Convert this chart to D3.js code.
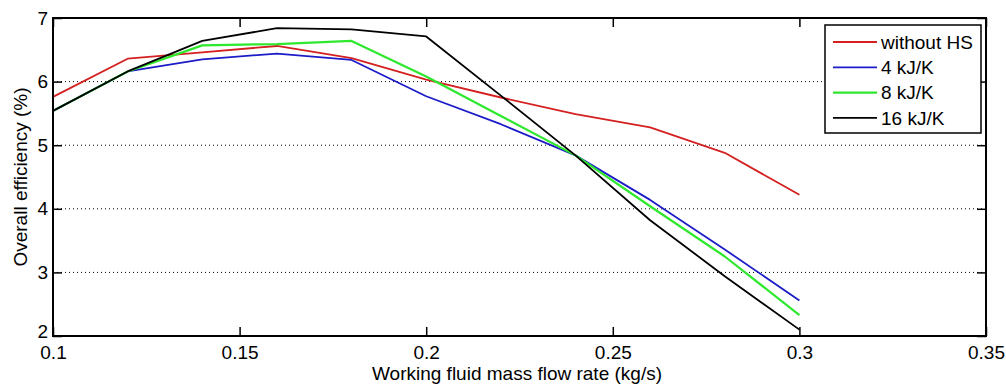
<!DOCTYPE html>
<html lang="en">
<head>
    <meta charset="UTF-8">
    <title>Overall efficiency vs working fluid mass flow rate</title>
    <script src="https://d3js.org/d3.v7.min.js"></script>
    <style>
        body { margin: 0; background: white; }
        svg { display: block; background-color: white; }
        text { font-family: "Liberation Sans", Arial, sans-serif; fill: #000; }
    </style>
</head>
<body>
    <script>
        // values
        const flowRates = [0.1, 0.12, 0.14, 0.16, 0.18, 0.2, 0.22, 0.24, 0.26, 0.28, 0.3];
        const withoutHS = [5.76, 6.36, 6.46, 6.56, 6.37, 6.03, 5.75, 5.49, 5.28, 4.88, 4.22];
        const hs4 = [5.54, 6.16, 6.35, 6.44, 6.34, 5.77, 5.33, 4.84, 4.14, 3.36, 2.56];
        const hs8 = [5.54, 6.16, 6.57, 6.59, 6.64, 6.08, 5.46, 4.84, 4.04, 3.25, 2.33];
        const hs16 = [5.54, 6.16, 6.64, 6.84, 6.82, 6.71, 5.78, 4.84, 3.82, 2.94, 2.1];

        const seriesNames = ['without HS', '4 kJ/K', '8 kJ/K', '16 kJ/K'];
        const seriesColors = ['#d42020', '#1c1cc8', '#2ee82e', '#000000'];
        const seriesValues = [withoutHS, hs4, hs8, hs16];

        const xTicks = [0.1, 0.15, 0.2, 0.25, 0.3, 0.35];
        const yTicks = [2, 3, 4, 5, 6, 7];

        const width = 1006;
        const height = 385;
        const margin = {top: 18, right: 20, bottom: 49, left: 53};
        const fontSize = '19px';

        const svg = d3.select('body')
                      .append('svg')
                      .attr('width', width)
                      .attr('height', height);

        const xScale = d3.scaleLinear()
                         .domain([0.1, 0.35])
                         .range([margin.left, width - margin.right]);

        const yScale = d3.scaleLinear()
                         .domain([2, 7])
                         .range([height - margin.bottom, margin.top]);

        // dotted grid lines
        svg.append('g')
           .selectAll('line')
           .data(yTicks.filter(d => d > 2 && d < 7))
           .join('line')
           .attr('x1', margin.left)
           .attr('x2', width - margin.right)
           .attr('y1', d => yScale(d))
           .attr('y2', d => yScale(d))
           .attr('stroke', '#000')
           .attr('stroke-width', 1)
           .attr('stroke-dasharray', '1,3');

        // curves
        const line = d3.line()
                       .x((d, i) => xScale(flowRates[i]))
                       .y(d => yScale(d));

        svg.append('g')
           .selectAll('path')
           .data(seriesValues)
           .join('path')
           .attr('d', d => line(d))
           .attr('fill', 'none')
           .attr('stroke', (d, i) => seriesColors[i])
           .attr('stroke-width', (d, i) => i === 2 ? 2.2 : 1.8)
           .attr('stroke-linejoin', 'round');

        // axes with inward ticks on all four sides
        const tickLen = 9;
        const fmt = d => String(d);

        svg.append('g')
           .attr('transform', `translate(0,${height - margin.bottom})`)
           .call(d3.axisBottom(xScale).tickValues(xTicks).tickSize(-tickLen).tickPadding(10).tickFormat(fmt));

        svg.append('g')
           .attr('transform', `translate(0,${margin.top})`)
           .call(d3.axisTop(xScale).tickValues(xTicks).tickSize(-tickLen).tickFormat(''));

        const yAxis = svg.append('g')
           .attr('transform', `translate(${margin.left},0)`)
           .call(d3.axisLeft(yScale).tickValues(yTicks).tickSize(-tickLen).tickPadding(5).tickFormat(fmt));

        // the lowest label sits a little higher, clear of "0.1"
        yAxis.selectAll('.tick text')
             .filter(d => d === 2)
             .attr('y', -5);

        svg.append('g')
           .attr('transform', `translate(${width - margin.right},0)`)
           .call(d3.axisRight(yScale).tickValues(yTicks).tickSize(-tickLen).tickFormat(''));

        svg.selectAll('.domain').remove();
        svg.selectAll('.tick line').attr('stroke', '#000').attr('stroke-width', 1.5);
        svg.selectAll('.tick text')
           .style('font-size', fontSize)
           .style('font-family', '"Liberation Sans", Arial, sans-serif')
           .attr('fill', '#000');

        // plot box
        svg.append('rect')
           .attr('x', margin.left)
           .attr('y', margin.top)
           .attr('width', width - margin.left - margin.right)
           .attr('height', height - margin.top - margin.bottom)
           .attr('fill', 'none')
           .attr('stroke', '#000')
           .attr('stroke-width', 2);

        // axis titles
        svg.append('text')
           .attr('x', 517)
           .attr('y', height - 5)
           .attr('text-anchor', 'middle')
           .style('font-size', fontSize)
           .text('Working fluid mass flow rate (kg/s)');

        svg.append('text')
           .attr('transform', `translate(27,${(margin.top + height - margin.bottom) / 2}) rotate(-90)`)
           .attr('text-anchor', 'middle')
           .style('font-size', fontSize)
           .text('Overall efficiency (%)');

        // legend
        const legend = svg.append('g').attr('transform', 'translate(825,25)');
        legend.append('rect')
              .attr('width', 156)
              .attr('height', 108)
              .attr('fill', 'white')
              .attr('stroke', '#000')
              .attr('stroke-width', 1.5);

        const rows = legend.selectAll('g.row')
                           .data(seriesNames)
                           .join('g')
                           .attr('class', 'row')
                           .attr('transform', (d, i) => `translate(0,${17 + i * 25.3})`);

        rows.append('line')
            .attr('x1', 8)
            .attr('x2', 52)
            .attr('stroke', (d, i) => seriesColors[i])
            .attr('stroke-width', (d, i) => i === 2 ? 2.2 : 1.8);

        rows.append('text')
            .attr('x', 56)
            .attr('dy', '0.35em')
            .style('font-size', fontSize)
            .text(d => d);
    </script>
</body>
</html>
